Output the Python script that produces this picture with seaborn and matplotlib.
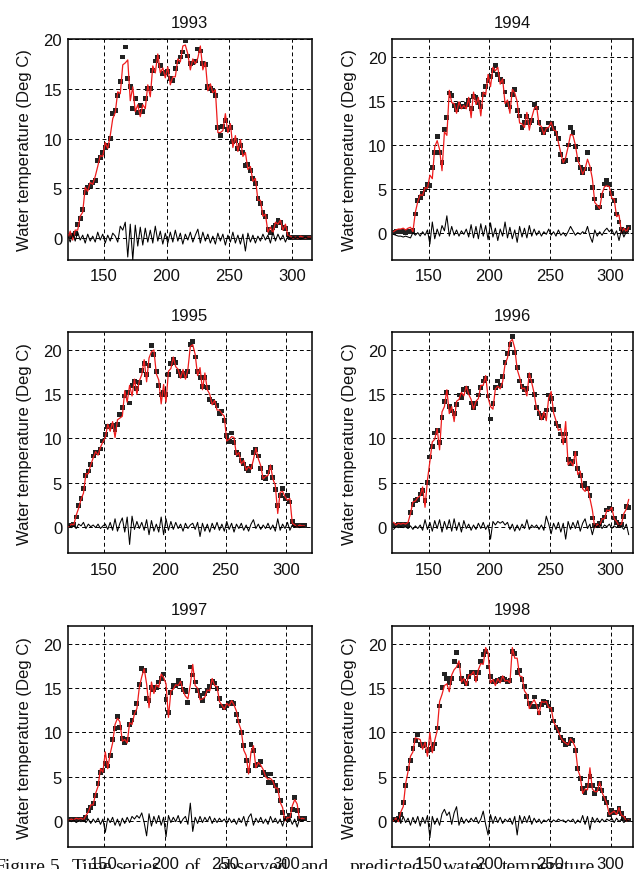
import numpy as np
import pandas as pd
import matplotlib
matplotlib.use("Agg")
import matplotlib.pyplot as plt
import seaborn as sns

# day of year, every second day
days = np.arange(121, 317, 2)

# observed water temperature (Deg C)
obs_1993 = [0.2, 0.3, 0.3, 0.5, 1.4, 2.0, 2.9, 4.6, 5.1, 5.3,
            5.6, 5.8, 7.8, 8.1, 8.6, 9.1, 9.3, 10.0, 12.5, 12.8,
            14.3, 15.7, 18.2, 19.2, 16.0, 15.2, 13.0, 14.0, 12.6, 13.3,
            12.7, 14.0, 15.0, 15.0, 16.8, 17.8, 18.2, 17.3, 16.5, 16.6,
            16.7, 16.0, 15.8, 17.0, 17.7, 18.2, 18.7, 19.8, 18.3, 17.5,
            17.6, 17.8, 19.0, 18.8, 17.5, 17.4, 15.2, 15.0, 14.8, 14.3,
            11.1, 10.3, 11.2, 11.8, 10.9, 11.1, 9.7, 9.8, 9.0, 9.3,
            8.6, 7.3, 7.4, 6.8, 6.0, 5.5, 4.0, 3.5, 2.6, 2.2,
            0.9, 0.6, 1.1, 1.3, 1.8, 1.6, 1.1, 1.0, 0.4, 0.1,
            0.1, 0.1, 0.1, 0.1, 0.1, 0.1, 0.1, 0.1]
res_1993 = [0.3, -0.4, 0.5, -0.3, 0.6, -0.2, 0.3, -0.5, 0.4, -0.3,
            0.2, -0.4, 0.6, -0.2, 0.4, -0.5, 0.3, -0.3, 0.5, 0.2,
            -0.4, 1.2, 0.8, 1.6, -1.9, 1.4, -2.2, 1.3, -0.8, 1.1,
            -0.7, 1.0, -0.4, 0.8, -0.5, 1.2, -0.3, 0.7, -0.6, 0.5,
            -0.5, 0.6, -0.4, 0.8, -0.3, 0.5, -0.6, 0.4, -0.2, 0.6,
            -0.4, 0.3, 0.9, -0.5, 0.6, -0.3, 0.4, -0.5, 0.2, -0.6,
            0.5, -0.3, 0.4, -0.7, 0.3, -0.4, 0.6, -0.5, 0.3, -0.6,
            0.4, -1.3, 0.5, -0.4, 0.3, -0.5, 0.2, -0.3, 0.4, -0.2,
            0.3, -0.5, 0.6, -0.3, 0.4, -0.2, 0.3, -0.4, 0.2, -0.1,
            0.1, 0.0, 0.1, -0.1, 0.0, 0.1, 0.0, 0.0]

obs_1994 = [0.1, 0.2, 0.2, 0.2, 0.2, 0.1, 0.2, 0.2, 0.3, 2.2,
            3.7, 4.1, 4.5, 5.0, 5.5, 5.4, 7.5, 9.2, 11.0, 9.2,
            8.0, 11.8, 13.1, 15.9, 15.6, 14.5, 14.0, 14.6, 14.4, 14.4,
            14.6, 15.0, 14.1, 15.5, 15.4, 14.8, 14.4, 15.7, 16.6, 17.3,
            17.8, 18.4, 19.0, 18.0, 17.4, 17.2, 16.0, 14.6, 14.3, 15.7,
            16.3, 13.9, 13.3, 12.0, 12.6, 13.2, 12.6, 12.8, 14.6, 14.2,
            12.6, 11.8, 11.4, 11.8, 12.5, 12.4, 11.9, 11.3, 10.7, 8.9,
            8.1, 8.3, 10.0, 12.0, 11.4, 9.8, 8.4, 7.5, 6.9, 7.3,
            9.2, 7.3, 5.2, 3.9, 2.9, 3.0, 4.3, 5.6, 6.0, 5.5,
            4.5, 3.7, 2.2, 1.3, 0.5, 0.2, 0.4, 0.7]
res_1994 = [-0.1, -0.2, -0.3, -0.3, -0.4, -0.3, -0.4, -0.5, 0.1, -0.2,
            0.1, -0.3, 0.2, -0.2, 0.4, -1.2, 1.3, -0.6, 0.5, -0.3,
            0.9, 0.3, 2.0, -0.3, 0.8, -0.2, 0.4, -0.3, 0.3, -0.1,
            0.5, -0.4, 1.0, -0.5, 0.8, -0.6, 1.1, -0.3, 0.9, -0.7,
            1.2, -0.4, 0.6, -0.8, 0.5, -0.3, 1.3, -0.5, 0.7, -0.6,
            0.4, -1.0, 0.8, -0.4, 0.6, -0.5, 0.9, -0.3, 0.5, -0.2,
            0.3, -0.3, 0.2, -0.1, 0.5, -0.2, 0.2, -0.3, 0.4, -0.2,
            0.1, -0.3, 0.2, 0.8, 0.3, -0.2, 0.1, -0.1, 0.2, 0.0,
            0.8, -0.3, -1.0, 0.4, -0.3, 0.2, -0.2, 0.3, 0.6, 0.2,
            0.5, -0.2, 0.3, -0.8, 0.4, -0.4, 0.2, 0.0]

obs_1995 = [0.2, 0.2, 0.3, 1.1, 2.4, 3.2, 4.3, 5.8, 6.3, 7.0,
            8.0, 8.4, 8.4, 8.8, 9.7, 10.4, 11.3, 11.3, 11.5, 11.0,
            11.6, 12.7, 13.5, 14.8, 15.2, 14.0, 16.0, 16.4, 15.6, 16.3,
            17.7, 18.5, 17.2, 18.2, 20.5, 19.5, 17.6, 16.0, 15.0, 15.2,
            15.0, 17.2, 18.5, 18.9, 18.6, 17.6, 17.1, 17.3, 17.1, 17.6,
            20.6, 21.0, 19.2, 17.6, 16.9, 15.9, 16.9, 15.8, 14.4, 14.2,
            14.0, 13.7, 12.8, 13.1, 12.0, 10.3, 9.6, 10.6, 9.5, 8.4,
            8.2, 7.5, 7.1, 6.6, 6.3, 6.8, 8.4, 8.7, 8.0, 6.6,
            5.6, 5.5, 6.2, 6.7, 5.6, 4.2, 2.4, 3.5, 4.3, 3.2,
            3.5, 2.8, 0.6, 0.2, 0.1, 0.1, 0.1, 0.1]
res_1995 = [0.2, -0.1, 0.1, -0.2, 0.3, 0.1, 0.5, -0.2, 0.3, 0.0,
            0.2, -0.1, 0.3, -0.2, 0.1, 0.3, -0.3, 0.5, -0.4, 0.9,
            -0.5, 0.4, 1.0, -0.6, 1.1, -2.0, 1.2, -0.3, 0.6, -0.2,
            0.5, -0.4, 0.8, -0.9, 0.7, -0.5, 0.3, -0.6, 1.1, -0.9,
            0.9, -0.4, 0.6, -0.3, 0.5, -0.2, 0.3, -0.5, 0.4, -0.2,
            0.2, 0.4, -0.3, 0.5, -1.1, 0.4, -0.5, 0.3, -0.6, 0.4,
            -0.3, 0.5, -0.4, 0.3, -0.5, 0.6, -0.3, 0.4, -0.6, 0.3,
            -0.2, 0.4, -0.4, 0.2, -0.5, 0.3, 0.8, -0.2, 0.3, -0.3,
            0.2, -0.2, 0.4, -0.3, 0.2, -0.5, 0.9, -0.4, 0.3, -0.2,
            0.5, -0.4, 0.2, 0.0, 0.1, -0.1, 0.0, 0.0]

obs_1996 = [0.2, 0.2, 0.3, 0.3, 0.3, 0.3, 0.3, 1.6, 2.5, 3.0,
            3.1, 3.7, 4.1, 3.0, 5.0, 7.9, 9.1, 10.6, 10.9, 9.5,
            12.4, 14.2, 15.2, 13.6, 13.1, 12.8, 13.8, 14.9, 14.6, 15.5,
            15.7, 15.3, 14.0, 13.5, 13.9, 14.9, 15.8, 16.5, 16.8, 14.8,
            12.2, 13.9, 15.8, 16.5, 16.0, 17.0, 18.6, 19.6, 20.6, 21.5,
            19.7, 18.0, 16.5, 15.9, 15.5, 15.6, 17.1, 16.5, 15.0, 13.5,
            12.8, 12.3, 12.6, 13.2, 14.9, 14.5, 13.3, 11.7, 11.4, 10.5,
            9.7, 10.5, 7.6, 7.1, 7.4, 8.3, 6.6, 5.8, 4.7, 4.9,
            4.3, 3.5, 1.0, 0.1, 0.2, 0.4, 0.7, 1.1, 1.9, 2.1,
            2.0, 1.0, 0.5, 0.3, 0.3, 1.2, 2.3, 2.2]
res_1996 = [-0.3, 0.0, -0.1, 0.0, -0.1, 0.0, -0.2, 0.1, -0.3, 0.1,
            -0.2, 0.2, -0.4, 0.8, -0.3, 0.5, -0.5, 0.7, -0.2, 0.8,
            -0.6, 0.6, -0.3, 0.8, -0.5, 0.9, -0.4, 0.5, -0.6, 0.7,
            -0.2, 0.3, -0.4, 0.2, -0.3, 0.4, -0.2, 0.5, -0.3, 0.2,
            -1.4, 0.6, 0.2, 0.6, 0.4, 0.6, 0.2, 0.5, -0.3, 0.3,
            -0.5, 0.2, -0.4, 0.3, -0.2, 0.8, -0.3, 0.2, -0.1, 0.2,
            -0.3, 0.2, -0.4, 1.2, 0.3, -0.8, 0.4, -0.3, 0.5, -0.6,
            0.4, -1.4, 0.6, -0.3, 0.5, -0.2, 0.7, -0.5, 0.4, 0.9,
            -0.2, 0.3, -0.9, 0.2, -0.1, 0.3, -0.2, 0.2, 0.0, 0.3,
            -0.2, 0.1, -0.1, 0.2, 0.0, -0.3, 0.3, -0.9]

obs_1997 = [0.2, 0.1, 0.2, 0.1, 0.2, 0.2, 0.2, 0.4, 1.2, 1.5,
            2.0, 2.9, 4.2, 5.5, 5.7, 6.5, 6.2, 7.4, 9.2, 10.4,
            11.8, 10.6, 9.3, 8.9, 9.2, 10.9, 11.4, 12.3, 13.3, 15.4,
            17.2, 17.0, 13.8, 13.6, 15.1, 14.9, 15.1, 15.7, 16.1, 16.6,
            13.7, 12.3, 14.5, 15.3, 15.3, 15.9, 15.5, 14.9, 14.6, 13.4,
            17.4, 16.5, 15.7, 14.7, 14.2, 13.6, 14.4, 14.7, 15.2, 15.8,
            15.6, 15.0, 13.8, 13.0, 12.8, 13.0, 13.3, 13.4, 13.3, 12.0,
            11.3, 10.0, 8.5, 6.8, 5.7, 8.6, 8.0, 6.3, 6.4, 6.7,
            5.5, 5.2, 4.3, 5.3, 4.3, 4.0, 3.4, 2.3, 0.9, 0.3,
            0.2, 0.6, 1.3, 2.6, 1.2, 0.3, 0.3, 0.3]
res_1997 = [0.1, -0.1, 0.1, -0.2, 0.0, -0.1, 0.1, -0.2, 0.2, -0.3,
            0.2, -0.2, 0.3, -0.4, 0.2, -1.3, 0.3, -0.2, 0.4, -0.5,
            0.2, -0.6, 0.3, -0.3, 0.4, -0.2, 0.5, 0.2, 0.6, 0.3,
            0.9, -0.2, -1.7, 0.8, -0.6, 0.5, -0.3, 0.6, -0.5, 0.4,
            -1.8, 0.6, -0.2, 0.4, -0.1, 0.6, -0.3, 0.2, 0.5, -0.4,
            2.0, -1.2, 0.4, -0.3, 0.5, -0.2, 0.4, -0.1, 0.5, -0.3,
            0.3, -0.2, 0.3, -0.1, 0.2, -0.3, 0.3, -0.2, 0.2, -0.4,
            0.3, -0.2, 0.5, -0.6, 0.4, 0.8, -0.5, 0.3, -0.2, 0.4,
            -0.3, 0.2, -0.4, 0.5, -0.2, 0.3, -0.3, 0.2, -0.6, 0.3,
            -0.2, 0.3, -0.4, 0.2, -0.7, 0.2, 0.0, 0.1]

obs_1998 = [0.2, 0.1, 0.3, 0.7, 2.1, 4.0, 5.9, 6.8, 8.2, 9.1,
            9.8, 8.6, 8.5, 8.6, 7.9, 8.1, 8.2, 8.7, 10.5, 13.0,
            15.1, 16.6, 16.1, 15.6, 16.1, 18.0, 19.0, 17.6, 16.1, 15.8,
            15.5, 16.3, 16.8, 16.8, 16.1, 16.8, 18.0, 18.8, 19.2, 17.4,
            16.3, 15.7, 15.8, 15.9, 16.0, 16.1, 16.0, 15.8, 15.9, 19.2,
            18.9, 16.8, 17.0, 16.0, 15.2, 14.1, 13.3, 12.9, 14.0, 12.9,
            12.2, 13.2, 13.5, 13.4, 13.0, 12.6, 11.3, 10.6, 10.3, 9.4,
            9.1, 8.6, 8.7, 9.2, 9.1, 8.0, 5.9, 4.8, 3.7, 3.2,
            4.0, 5.0, 4.0, 3.1, 3.6, 4.2, 3.4, 2.5, 2.1, 0.7,
            1.2, 0.9, 1.0, 1.4, 0.8, 0.3, 0.1, 0.1]
res_1998 = [0.2, -0.2, 0.4, -0.3, 0.5, -0.2, 0.3, -0.5, 0.4, -0.3,
            0.5, -0.6, 0.4, -0.3, 0.6, -1.9, 0.5, -0.4, 0.3, -0.5,
            0.8, 1.3, 0.6, 1.0, -0.4, 0.9, 1.6, -0.5, 0.4, -0.3,
            0.2, -0.2, 0.3, -0.1, 0.4, -0.3, 0.2, 1.1, -0.4, -1.6,
            0.7, -0.3, 0.5, -0.2, 0.4, -0.3, 0.2, -0.1, 0.3, -0.4,
            0.5, -1.6, 0.6, -0.3, 0.5, -0.2, 0.6, -0.4, 0.3, -0.2,
            0.2, -0.3, 0.1, -0.1, 0.2, -0.2, 0.1, -0.1, 0.2, 0.0,
            0.1, -0.2, 0.1, -0.1, 0.2, -0.3, 0.1, -0.2, 0.6, -0.4,
            0.5, -1.0, 0.4, -0.2, 0.3, -0.2, 0.2, -0.1, 0.2, 0.0,
            0.3, -0.2, 0.3, -0.1, 0.2, -0.2, 0.1, 0.0]

years = ["1993", "1994", "1995", "1996", "1997", "1998"]
observed = [obs_1993, obs_1994, obs_1995, obs_1996, obs_1997, obs_1998]
residual = [res_1993, res_1994, res_1995, res_1996, res_1997, res_1998]

# caption of the source page (justified, cut by the bottom edge)
caption_words = ["Figure", "5.", "Time", "series", "of", "observed", "and",
                 "predicted", "water", "temperature"]
caption_x = [-6, 50, 72, 115, 184, 217, 300, 350, 443, 502]  # pixels

sns.set_style("white")
plt.rcParams['font.family'] = ['Liberation Sans', 'DejaVu Sans']

fig = plt.figure(figsize=(6.35, 8.7), dpi=100)

# axes boxes [left, bottom, width, height] in figure fraction
lefts = [0.1066, 0.6178]
widths = [0.3843, 0.379]
bottoms = [0.700, 0.3629, 0.0249]
xlims = [(121, 316), (120, 318.5), (120, 321), (120, 318.5), (120, 321), (120, 318.5)]
ylims = [(-2.2, 20), (-3, 22), (-3, 22), (-3, 22), (-3, 22), (-3, 22)]

# caption first so the tick labels sit on top of it
for w, x in zip(caption_words, caption_x):
    fig.text(x / 635, -0.002, w, family=["Liberation Serif", "DejaVu Serif"],
             fontsize=14, ha="left", va="baseline", color="#111111")

for i, year in enumerate(years):
    assert len(observed[i]) == len(days) and len(residual[i]) == len(days)
    row, col = divmod(i, 2)
    ax = fig.add_axes([lefts[col], bottoms[row], widths[col], 0.254])
    ax.patch.set_alpha(0)
    df = pd.DataFrame({"day": days, "obs": observed[i], "res": residual[i]})
    df["pred"] = df["obs"] - df["res"]

    sns.scatterplot(data=df, x="day", y="obs", marker="s", s=12, color="#222222",
                    edgecolor="none", linewidth=0, ax=ax, zorder=3)
    sns.lineplot(data=df, x="day", y="pred", color="#ee1c1c", linewidth=0.9,
                 ax=ax, zorder=4)
    sns.lineplot(data=df, x="day", y="res", color="black", linewidth=0.75,
                 ax=ax, zorder=4)

    ax.set_xlim(*xlims[i])
    ax.set_ylim(*ylims[i])
    ax.set_xticks([150, 200, 250, 300])
    ax.set_yticks([0, 5, 10, 15, 20])
    ax.grid(True, color="black", linestyle=(0, (4, 3)), linewidth=0.7, zorder=1)
    ax.tick_params(length=0, labelsize=12, colors="#111111")
    ax.tick_params(axis="x", pad=6)
    ax.tick_params(axis="y", pad=4)
    for sp in ax.spines.values():
        sp.set_color("black")
        sp.set_linewidth(1.1)
    ax.set_xlabel("")
    ax.set_ylabel("Water temperature (Deg C)", fontsize=12, labelpad=8, color="#111111")
    ax.set_title(year, fontsize=12, pad=9, color="#111111")

fig.savefig("out.png", dpi=100)
